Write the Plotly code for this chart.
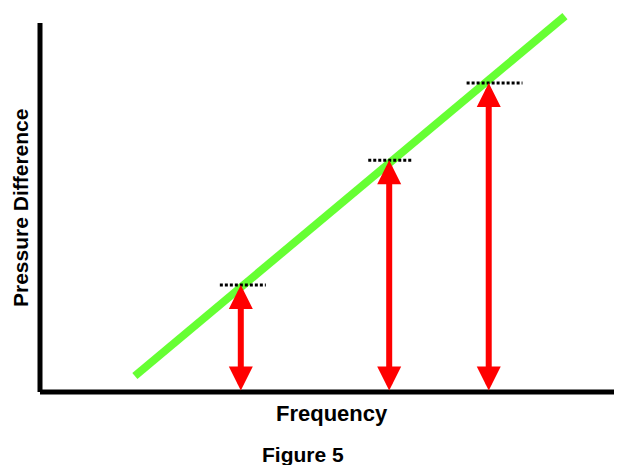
import plotly.graph_objects as go

# ---- data (data units: x 0..100, y 0..100) ----
line_freq = [16.3, 90.2]
line_pressure = [4.2, 98.4]

arrow_freq = [34.5, 60.0, 77.1]
arrow_pressure = [28.0, 60.7, 80.9]

dash_left = [-3.6, -3.6, -3.8]
dash_right = [4.3, 4.1, 5.8]

x_label = "Frequency"
y_label = "Pressure Difference"
caption = "Figure 5"

# page body has an 8px margin; figure is sized to end at the window edge
OFF = 8
W, H = 622 - OFF, 465 - OFF
L, R, T, B = 32, 0, 2, 73
plot_w = W - L - R
plot_h = H - T - B

def px_x(px):
    return (px - OFF - L) / plot_w

def px_y(py):
    return (H - B - (py - OFF)) / plot_h

FONT = "Liberation Sans, Arial, sans-serif"

fig = go.Figure()

fig.add_trace(go.Scatter(
    x=line_freq, y=line_pressure, mode="lines",
    line=dict(color="#66ff33", width=8), hoverinfo="skip", showlegend=False,
))

for f, p, dl, dr in zip(arrow_freq, arrow_pressure, dash_left, dash_right):
    fig.add_trace(go.Scatter(
        x=[f + dl, f + dr], y=[p, p], mode="lines",
        line=dict(color="black", width=3, dash="3px,2px"),
        hoverinfo="skip", showlegend=False,
    ))

annotations = []
for f, p in zip(arrow_freq, arrow_pressure):
    annotations.append(dict(
        x=f, y=p, xref="x", yref="y",
        ax=f, ay=0, axref="x", ayref="y",
        showarrow=True, text="",
        arrowhead=2, arrowsize=0.8, arrowwidth=6, arrowcolor="#ff0000",
        startarrowhead=2, startarrowsize=0.8, arrowside="end+start",
        standoff=0, startstandoff=0,
    ))

annotations += [
    dict(text="<b>" + x_label + "</b>", x=px_x(332), y=px_y(413), xref="paper", yref="paper",
         showarrow=False, xanchor="center", yanchor="middle",
         font=dict(family=FONT, size=22, color="black")),
    dict(text="<b>" + caption + "</b>", x=px_x(303), y=px_y(454), xref="paper", yref="paper",
         showarrow=False, xanchor="center", yanchor="middle",
         font=dict(family=FONT, size=21, color="black")),
    dict(text="<b>" + y_label + "</b>", x=px_x(21), y=px_y(208), xref="paper", yref="paper",
         showarrow=False, xanchor="center", yanchor="middle", textangle=-90,
         font=dict(family=FONT, size=21, color="black")),
]

shapes = [
    dict(type="line", xref="paper", yref="paper", x0=0, x1=0, y0=0, y1=px_y(23),
         line=dict(color="black", width=5)),
    dict(type="line", xref="paper", yref="paper", x0=0, x1=1, y0=0, y1=0,
         line=dict(color="black", width=5)),
]

fig.update_layout(
    width=W, height=H,
    margin=dict(l=L, r=R, t=T, b=B),
    paper_bgcolor="white", plot_bgcolor="white",
    xaxis=dict(range=[0, 100], visible=False, fixedrange=True),
    yaxis=dict(range=[0, 100], visible=False, fixedrange=True),
    annotations=annotations, shapes=shapes,
    showlegend=False,
)

fig.write_html("out.html")
